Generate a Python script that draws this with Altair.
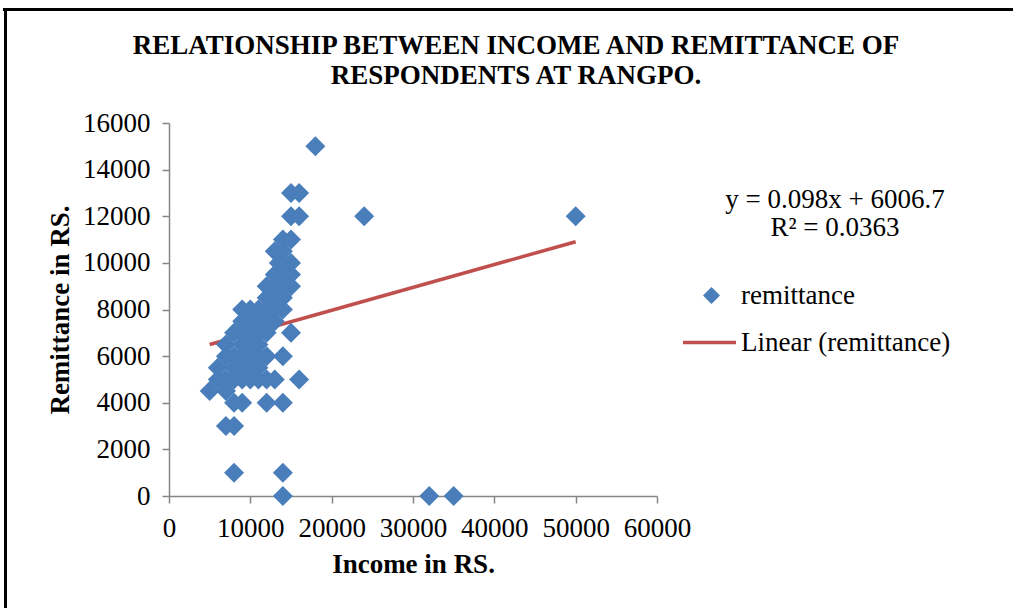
import altair as alt
import pandas as pd

# ---- data ----
income = [
    18000,
    15000, 16000,
    15000, 16000, 24000, 50000,
    14000, 15000,
    13000, 14000,
    13500, 14000, 15000,
    13000, 14000, 15000,
    12000, 13000, 14000, 15000,
    12000, 13000, 14000,
    9000, 10000, 11000, 12000, 13000, 14000,
    9000, 10000, 11000, 12000, 13000,
    8000, 9000, 10000, 11000, 12000, 15000,
    7000, 9000, 10000, 11000,
    7000, 8000, 9000, 10000, 11000, 12000, 14000,
    6000, 8000, 9000, 10000, 11000,
    6000, 7000, 8000, 9000, 10000, 11000, 12000, 13000, 16000,
    5000, 7000,
    8000, 9000, 12000, 14000,
    7000, 8000,
    8000, 14000,
    14000, 32000, 35000,
]
remittance = [
    15000,
    13000, 13000,
    12000, 12000, 12000, 12000,
    11000, 11000,
    10500, 10500,
    10000, 10000, 10000,
    9500, 9500, 9500,
    9000, 9000, 9000, 9000,
    8500, 8500, 8500,
    8000, 8000, 8000, 8000, 8000, 8000,
    7500, 7500, 7500, 7500, 7500,
    7000, 7000, 7000, 7000, 7000, 7000,
    6500, 6500, 6500, 6500,
    6000, 6000, 6000, 6000, 6000, 6000, 6000,
    5500, 5500, 5500, 5500, 5500,
    5000, 5000, 5000, 5000, 5000, 5000, 5000, 5000, 5000,
    4500, 4500,
    4000, 4000, 4000, 4000,
    3000, 3000,
    1000, 1000,
    0, 0, 0,
]
trend_x = [5000, 50000]
trend_y = [6497, 10907]
x_ticks = [0, 10000, 20000, 30000, 40000, 50000, 60000]
y_ticks = [0, 2000, 4000, 6000, 8000, 10000, 12000, 14000, 16000]
title_lines = ["RELATIONSHIP BETWEEN INCOME AND REMITTANCE OF", "RESPONDENTS AT RANGPO."]
equation_lines = ["y = 0.098x + 6006.7", "R\u00b2 = 0.0363"]

FONT = "Liberation Serif"
FS = 27
BLUE = "#4a7ebb"
RED = "#c0504d"
GRAY = "#868686"

pts = pd.DataFrame({"income": income, "remittance": remittance, "series": "remittance"})
trend = pd.DataFrame({"income": trend_x, "remittance": trend_y, "series": "Linear (remittance)"})

xscale = alt.Scale(domain=[0, 60000], nice=False, zero=True)
yscale = alt.Scale(domain=[0, 16000], nice=False, zero=True)

xaxis = alt.Axis(values=x_ticks, format="d", title="Income in RS.", grid=False,
                 labelFont=FONT, labelFontSize=FS, labelColor="black", labelPadding=12,
                 titleFont=FONT, titleFontSize=FS, titleFontWeight="bold", titleColor="black",
                 titlePadding=10, domainColor=GRAY, domainWidth=1.5, tickColor=GRAY,
                 tickWidth=1.5, tickSize=7, labelFlush=False)
yaxis = alt.Axis(values=y_ticks, format="d", title="Remittance in RS.", grid=False,
                 labelFont=FONT, labelFontSize=FS, labelColor="black", labelPadding=12,
                 titleFont=FONT, titleFontSize=FS, titleFontWeight="bold", titleColor="black",
                 titlePadding=8, domainColor=GRAY, domainWidth=1.5, tickColor=GRAY,
                 tickWidth=1.5, tickSize=7, labelFlush=False)

points = alt.Chart(pts).mark_point(shape="diamond", filled=True, size=400, opacity=1).encode(
    x=alt.X("income:Q", scale=xscale, axis=xaxis),
    y=alt.Y("remittance:Q", scale=yscale, axis=yaxis),
    color=alt.Color("series:N", scale=alt.Scale(domain=["remittance"], range=[BLUE]),
                    legend=alt.Legend(title=None, orient="none", legendX=529, legendY=159,
                                      symbolType="diamond", symbolSize=289, symbolStrokeWidth=0,
                                      labelFont=FONT, labelFontSize=FS, labelColor="black",
                                      labelOffset=16, padding=0, labelLimit=400)),
)

line = alt.Chart(trend).mark_line(strokeWidth=3.5).encode(
    x=alt.X("income:Q", scale=xscale),
    y=alt.Y("remittance:Q", scale=yscale),
    stroke=alt.Stroke("series:N", scale=alt.Scale(domain=["Linear (remittance)"], range=[RED]),
                      legend=alt.Legend(title=None, orient="none", legendX=512, legendY=191,
                                        symbolType="stroke", symbolSize=2809, symbolStrokeWidth=3.5,
                                        labelFont=FONT, labelFontSize=FS, labelColor="black",
                                        labelOffset=3, padding=0, labelLimit=400)),
)

eq = alt.Chart(pd.DataFrame({"t": [0]})).mark_text(
    font=FONT, fontSize=FS, color="black", align="center", baseline="middle", lineHeight=28
).encode(x=alt.value(666), y=alt.value(77), text=alt.value(equation_lines))

title = alt.Chart(pd.DataFrame({"t": [0]})).mark_text(
    font=FONT, fontSize=FS, fontWeight="bold", color="black", align="center",
    baseline="middle", lineHeight=30
).encode(x=alt.value(347), y=alt.value(-77), text=alt.value(title_lines))

frame_top = alt.Chart(pd.DataFrame({"t": [0]})).mark_rule(color="black", strokeWidth=3).encode(
    x=alt.value(-166), x2=alt.value(850), y=alt.value(-113.5))
frame_left = alt.Chart(pd.DataFrame({"t": [0]})).mark_rule(color="black", strokeWidth=3).encode(
    x=alt.value(-163.5), y=alt.value(-115), y2=alt.value(490))

chart = alt.layer(frame_top, frame_left, line, points, eq, title).resolve_scale(
    color="independent", stroke="independent"
).properties(
    width=488, height=373,
    autosize=alt.AutoSizeParams(type="none"),
    padding={"left": 169, "top": 123, "right": 356, "bottom": 112},
    background="white",
).configure_view(stroke=None)

chart.save("out.html", embed_options={"renderer": "svg", "actions": False})
